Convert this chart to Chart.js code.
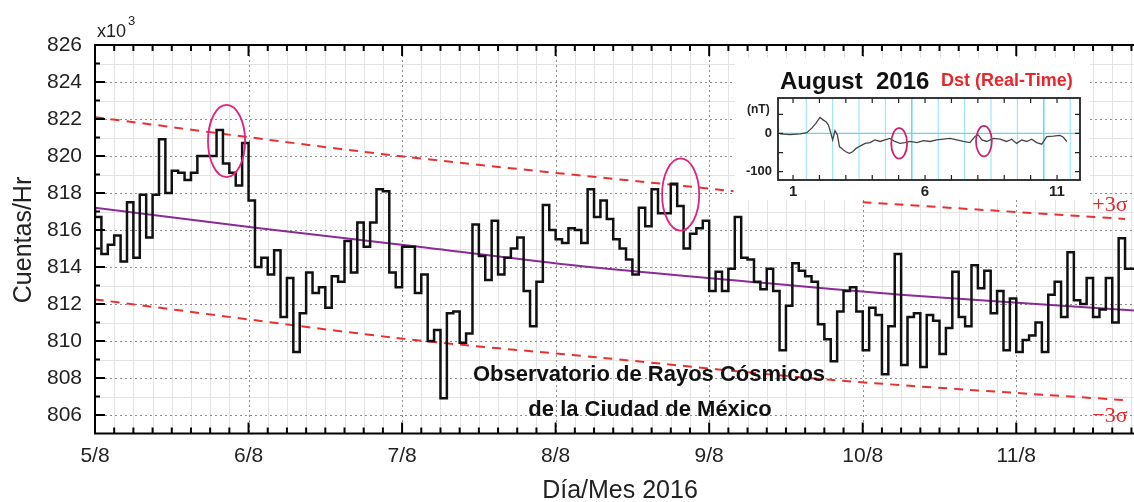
<!DOCTYPE html>
<html>
<head>
<meta charset="utf-8">
<script src="https://cdn.jsdelivr.net/npm/chart.js@4.4.1/dist/chart.umd.min.js"></script>
<style>
    body { margin: 0; background: #fff; }
    #contenedor { position: relative; width: 1134px; height: 502px; }
    #principal { position: absolute; left: 0; top: 0; }
    #recuadro { position: absolute; left: 735px; top: 58px; }
</style>
</head>
<body>
<div id="contenedor">
    <canvas id="principal" width="1134" height="502"></canvas>
    <canvas id="recuadro" width="355" height="142"></canvas>
</div>
<script>
// Cuentas por hora (x10^3), un arreglo por día de agosto 2016
const dia5 = [817.2, 816.7, 814.7, 815.2, 815.7, 814.3, 817.5, 814.5, 817.9, 815.6, 817.9, 820.9,
    818.0, 819.2, 819.1, 818.7, 819.1, 820.0, 820.0, 820.0, 821.4, 819.6, 819.1, 818.4];
const dia6 = [820.7, 817.6, 814.0, 814.5, 813.6, 814.9, 811.3, 813.4, 809.4, 811.5, 813.7, 812.6,
    812.9, 811.8, 813.5, 813.2, 815.4, 813.7, 816.4, 815.1, 816.4, 818.2, 818.1, 813.7];
const dia7 = [812.9, 815.1, 815.1, 812.6, 813.6, 810.0, 810.6, 806.9, 811.5, 811.6, 809.9, 810.4,
    816.3, 814.6, 813.3, 816.5, 813.6, 814.5, 815.0, 815.6, 812.7, 810.8, 813.2, 817.35];
const dia8 = [816.0, 815.5, 815.3, 816.1, 816.0, 815.3, 818.2, 816.7, 817.6, 816.6, 815.5, 815.0,
    814.4, 813.6, 817.2, 816.2, 818.2, 816.9, 816.9, 818.5, 817.3, 815.0, 815.8, 816.1];
const dia9 = [816.5, 812.7, 813.75, 812.7, 813.9, 816.7, 814.5, 814.4, 813.2, 812.8, 813.9, 812.7,
    809.5, 811.9, 814.2, 813.8, 813.5, 813.2, 810.9, 810.1, 808.9, 811.6, 812.7, 812.9];
const dia10 = [811.6, 809.5, 811.8, 811.4, 808.2, 810.8, 814.7, 808.7, 811.3, 811.5, 808.6, 811.4,
    811.1, 809.3, 810.7, 813.75, 811.3, 810.8, 814.1, 812.85, 813.8, 811.5, 812.7, 809.5];
const dia11 = [812.3, 809.4, 810.05, 810.3, 811.0, 809.4, 812.5, 813.2, 811.3, 814.8, 812.2, 812.0,
    813.4, 811.3, 811.7, 813.4, 811.0, 815.55, 813.9];

const etiquetasDias = ['5/8', '6/8', '7/8', '8/8', '9/8', '10/8', '11/8'];
const ticksY = [806, 808, 810, 812, 814, 816, 818, 820, 822, 824, 826];

const tendenciaHoras = [0, 25.7, 49.25, 75.8, 99.3, 125.9, 162.4];
const tendenciaValores = [817.2, 816.1, 815.15, 814.05, 813.3, 812.5, 811.65];

// Bandas +3σ / -3σ (null = corte detrás del recuadro)
const sigmaSupHoras = [0, 47.5, 99.8, 110, 120, 161];
const sigmaSupValores = [822.1, 820.0, 818.1, null, 817.5, 816.6];
const sigmaInfHoras = [0, 47.5, 79, 115, 161];
const sigmaInfValores = [812.25, 810.15, 809.1, 807.9, 806.8];

// Círculos marcados: hora, cuentas
const circulosHora = [20.56, 91.54];
const circulosValor = [820.81, 817.92];

// Recuadro Dst (nT) por día de agosto
const dstDias = [0.51, 0.89, 1.27, 1.52, 1.71, 1.87, 2.02, 2.15, 2.25, 2.34, 2.43, 2.5, 2.59, 2.68,
    2.76, 2.84, 2.9, 3.0, 3.13, 3.26, 3.39, 3.54, 3.73, 3.92, 4.1, 4.3, 4.48, 4.67, 4.86, 5.05,
    5.24, 5.43, 5.69, 5.94, 6.19, 6.44, 6.69, 6.95, 7.2, 7.45, 7.7, 7.89, 8.02, 8.15, 8.34, 8.59,
    8.84, 9.09, 9.28, 9.47, 9.66, 9.85, 10.04, 10.23, 10.42, 10.61, 10.86, 11.11, 11.24, 11.37];
const dstValores = [-1, -3, -1, 2, 14, 27, 42, 35, 31, 22, 1, -17, 7, -4,
    -35, -39, -43, -48, -52, -48, -39, -33, -26, -24, -17, -21, -17, -13, -21, -26,
    -24, -21, -24, -19, -21, -17, -15, -13, -17, -21, -24, -8, -4, -17, -21, -13,
    -15, -21, -15, -26, -17, -21, -15, -24, -28, -8, -7, -5, -10, -21];
const dstTicksX = [1, 6, 11];
const dstTicksY = [0, -100];
const dstCirculosDia = [5.02, 8.23];
const dstCirculosValor = [-26, -20];

const fuente = "'Liberation Sans', Arial, sans-serif";

const cuentas = [].concat(dia5, dia6, dia7, dia8, dia9, dia10, dia11);
const puntosCuentas = cuentas.map((v, h) => ({ x: h, y: v }));
puntosCuentas.push({ x: cuentas.length, y: cuentas[cuentas.length - 1] });

function pares(xs, ys) {
    return xs.map((x, i) => ({ x: x, y: ys[i] }));
}

function elipse(ctx, sx, sy, cx, cy, rx, ry, color) {
    const px = sx.getPixelForValue(cx);
    const py = sy.getPixelForValue(cy);
    const rpx = Math.abs(sx.getPixelForValue(cx + rx) - px);
    const rpy = Math.abs(sy.getPixelForValue(cy + ry) - py);
    ctx.save();
    ctx.strokeStyle = color;
    ctx.lineWidth = 1.8;
    ctx.beginPath();
    ctx.ellipse(px, py, rpx, rpy, 0, 0, Math.PI * 2);
    ctx.stroke();
    ctx.restore();
}

// Rejilla, marcas hacia adentro, círculos y textos
const marcoPrincipal = {
    id: 'marcoPrincipal',
    beforeDatasetsDraw(chart) {
        const { ctx, chartArea: a, scales: { x, y } } = chart;
        ctx.save();
        ctx.lineWidth = 1;
        // rejilla menor
        ctx.strokeStyle = '#e3e3e3';
        for (let h = 3; h < 163; h += 3) {
            if (h % 24 === 0) continue;
            const px = Math.round(x.getPixelForValue(h)) + 0.5;
            ctx.beginPath(); ctx.moveTo(px, a.top); ctx.lineTo(px, a.bottom); ctx.stroke();
        }
        for (let v = 807; v < 826; v += 2) {
            const py = Math.round(y.getPixelForValue(v)) + 0.5;
            ctx.beginPath(); ctx.moveTo(a.left, py); ctx.lineTo(a.right, py); ctx.stroke();
        }
        // rejilla mayor punteada
        ctx.strokeStyle = '#8c8c8c';
        ctx.setLineDash([2, 3]);
        for (let h = 24; h < 163; h += 24) {
            const px = Math.round(x.getPixelForValue(h)) + 0.5;
            ctx.beginPath(); ctx.moveTo(px, a.top); ctx.lineTo(px, a.bottom); ctx.stroke();
        }
        ticksY.forEach(v => {
            const py = Math.round(y.getPixelForValue(v)) + 0.5;
            ctx.beginPath(); ctx.moveTo(a.left, py); ctx.lineTo(a.right, py); ctx.stroke();
        });
        ctx.restore();
    },
    afterDatasetsDraw(chart) {
        const { ctx, chartArea: a, scales: { x, y } } = chart;
        ctx.save();
        // marco
        ctx.strokeStyle = '#000';
        ctx.lineWidth = 2;
        ctx.beginPath();
        ctx.moveTo(a.right + 2, a.top); ctx.lineTo(a.left, a.top);
        ctx.lineTo(a.left, a.bottom); ctx.lineTo(a.right + 2, a.bottom);
        ctx.stroke();
        // marcas
        for (let h = 0; h < 163; h += 3) {
            const px = x.getPixelForValue(h);
            const l = h % 24 === 0 ? 11 : 6;
            ctx.beginPath();
            ctx.moveTo(px, a.bottom); ctx.lineTo(px, a.bottom - l);
            ctx.moveTo(px, a.top); ctx.lineTo(px, a.top + l);
            ctx.stroke();
        }
        for (let v = 806; v <= 826; v++) {
            const py = y.getPixelForValue(v);
            const l = v % 2 === 0 ? 10 : 5;
            ctx.beginPath(); ctx.moveTo(a.left, py); ctx.lineTo(a.left + l, py); ctx.stroke();
        }
        // círculos
        circulosHora.forEach((h, i) => elipse(ctx, x, y, h, circulosValor[i], 2.9, 1.95, '#e2227d'));
        // textos
        ctx.fillStyle = '#111';
        ctx.textBaseline = 'alphabetic';
        ctx.font = 'bold 22px ' + fuente;
        ctx.textAlign = 'center';
        ctx.fillText('Observatorio de Rayos Cósmicos', 649, 381);
        ctx.fillText('de la Ciudad de México', 650, 416);
        ctx.fillStyle = '#e8262b';
        ctx.font = "22px 'Liberation Serif', 'Times New Roman', serif";
        ctx.fillText('+3σ', 1110, 211);
        ctx.fillText('\u22123σ', 1110, 422);
        ctx.fillStyle = '#222';
        ctx.textAlign = 'left';
        ctx.font = '18px ' + fuente;
        ctx.fillText('x10', 97, 37);
        ctx.font = '13px ' + fuente;
        ctx.fillText('3', 128, 25);
        ctx.font = '25px ' + fuente;
        ctx.textAlign = 'center';
        ctx.fillText('Día/Mes 2016', 620, 498);
        ctx.translate(31, 240);
        ctx.rotate(-Math.PI / 2);
        ctx.fillText('Cuentas/Hr', 0, 0);
        ctx.restore();
    }
};

new Chart(document.getElementById('principal'), {
    type: 'line',
    data: {
        datasets: [
            {
                data: puntosCuentas,
                borderColor: '#111',
                borderWidth: 2.5,
                stepped: 'after',
                pointRadius: 0
            },
            {
                data: pares(tendenciaHoras, tendenciaValores),
                borderColor: '#8a2c98',
                borderWidth: 2,
                tension: 0.3,
                pointRadius: 0
            },
            {
                data: pares(sigmaSupHoras, sigmaSupValores),
                borderColor: '#e8302f',
                borderWidth: 2,
                borderDash: [9, 7],
                tension: 0.3,
                spanGaps: false,
                pointRadius: 0
            },
            {
                data: pares(sigmaInfHoras, sigmaInfValores),
                borderColor: '#e8302f',
                borderWidth: 2,
                borderDash: [9, 7],
                tension: 0.3,
                pointRadius: 0
            }
        ]
    },
    options: {
        responsive: false,
        animation: false,
        devicePixelRatio: 1,
        layout: { padding: { top: 45, right: 0, left: 0, bottom: 0 } },
        plugins: {
            legend: { display: false },
            tooltip: { enabled: false }
        },
        scales: {
            x: {
                type: 'linear',
                min: 0,
                max: 162.4,
                afterBuildTicks: s => { s.ticks = etiquetasDias.map((_, i) => ({ value: i * 24 })); },
                afterFit: s => { s.height = 68.5; },
                ticks: {
                    callback: v => etiquetasDias[Math.round(v / 24)],
                    font: { family: fuente, size: 21 },
                    color: '#222',
                    padding: 10,
                    maxRotation: 0,
                    autoSkip: false
                },
                grid: { display: false, drawTicks: false },
                border: { display: false }
            },
            y: {
                min: 805,
                max: 826,
                afterBuildTicks: s => { s.ticks = ticksY.map(v => ({ value: v })); },
                afterFit: s => { s.width = 95; },
                ticks: {
                    font: { family: fuente, size: 21 },
                    color: '#222',
                    padding: 13
                },
                grid: { display: false, drawTicks: false },
                border: { display: false }
            }
        }
    },
    plugins: [marcoPrincipal]
});

// Recuadro con el índice Dst
const marcoRecuadro = {
    id: 'marcoRecuadro',
    beforeDraw(chart) {
        const ctx = chart.ctx;
        ctx.save();
        ctx.fillStyle = '#fff';
        ctx.fillRect(0, 0, chart.width, chart.height);
        ctx.restore();
    },
    beforeDatasetsDraw(chart) {
        const { ctx, chartArea: a, scales: { x, y } } = chart;
        ctx.save();
        ctx.lineWidth = 1.2;
        for (let d = 1.5; d < 12; d++) {
            const px = x.getPixelForValue(d);
            ctx.strokeStyle = (d === 5.5 || d === 10.5) ? '#3fd0e0' : '#9beaf2';
            ctx.beginPath(); ctx.moveTo(px, a.top); ctx.lineTo(px, a.bottom); ctx.stroke();
        }
        ctx.strokeStyle = '#5fdbe8';
        const p0 = y.getPixelForValue(0);
        ctx.beginPath(); ctx.moveTo(a.left, p0); ctx.lineTo(a.right, p0); ctx.stroke();
        ctx.restore();
    },
    afterDatasetsDraw(chart) {
        const { ctx, chartArea: a, scales: { x, y } } = chart;
        ctx.save();
        ctx.strokeStyle = '#222';
        ctx.lineWidth = 1.8;
        ctx.strokeRect(a.left, a.top, a.right - a.left, a.bottom - a.top);
        ctx.lineWidth = 1.2;
        for (let d = 1; d < 12; d++) {
            const px = x.getPixelForValue(d);
            ctx.beginPath();
            ctx.moveTo(px, a.bottom); ctx.lineTo(px, a.bottom - 5);
            ctx.moveTo(px, a.top); ctx.lineTo(px, a.top + 5);
            ctx.stroke();
        }
        [50, 0, -50, -100].forEach(v => {
            const py = y.getPixelForValue(v);
            ctx.beginPath();
            ctx.moveTo(a.left, py); ctx.lineTo(a.left + 5, py);
            ctx.moveTo(a.right, py); ctx.lineTo(a.right - 5, py);
            ctx.stroke();
        });
        dstCirculosDia.forEach((d, i) => elipse(ctx, x, y, d, dstCirculosValor[i], 0.3, 40, '#c8246e'));
        ctx.fillStyle = '#111';
        ctx.textAlign = 'left';
        ctx.font = 'bold 24px ' + fuente;
        ctx.fillText('August  2016', 45, 31);
        ctx.fillStyle = '#e8262b';
        ctx.font = 'bold 18px ' + fuente;
        ctx.fillText('Dst (Real-Time)', 206, 28);
        ctx.fillStyle = '#222';
        ctx.font = 'bold 12px ' + fuente;
        ctx.fillText('(nT)', 12, 55);
        ctx.restore();
    }
};

new Chart(document.getElementById('recuadro'), {
    type: 'line',
    data: {
        datasets: [{
            data: pares(dstDias, dstValores),
            borderColor: '#444',
            borderWidth: 1.3,
            pointRadius: 0
        }]
    },
    options: {
        responsive: false,
        animation: false,
        devicePixelRatio: 1,
        layout: { padding: { top: 40, right: 10, left: 0, bottom: 0 } },
        plugins: {
            legend: { display: false },
            tooltip: { enabled: false }
        },
        scales: {
            x: {
                type: 'linear',
                min: 0.43,
                max: 11.87,
                afterBuildTicks: s => { s.ticks = dstTicksX.map(v => ({ value: v })); },
                afterFit: s => { s.height = 20; },
                ticks: {
                    font: { family: fuente, size: 15, weight: 'bold' },
                    color: '#222',
                    padding: 3,
                    maxRotation: 0,
                    autoSkip: false
                },
                grid: { display: false, drawTicks: false },
                border: { display: false }
            },
            y: {
                min: -122,
                max: 93,
                afterBuildTicks: s => { s.ticks = dstTicksY.map(v => ({ value: v })); },
                afterFit: s => { s.width = 43; },
                ticks: {
                    font: { family: fuente, size: 13, weight: 'bold' },
                    color: '#222',
                    padding: 6
                },
                grid: { display: false, drawTicks: false },
                border: { display: false }
            }
        }
    },
    plugins: [marcoRecuadro]
});
</script>
</body>
</html>
